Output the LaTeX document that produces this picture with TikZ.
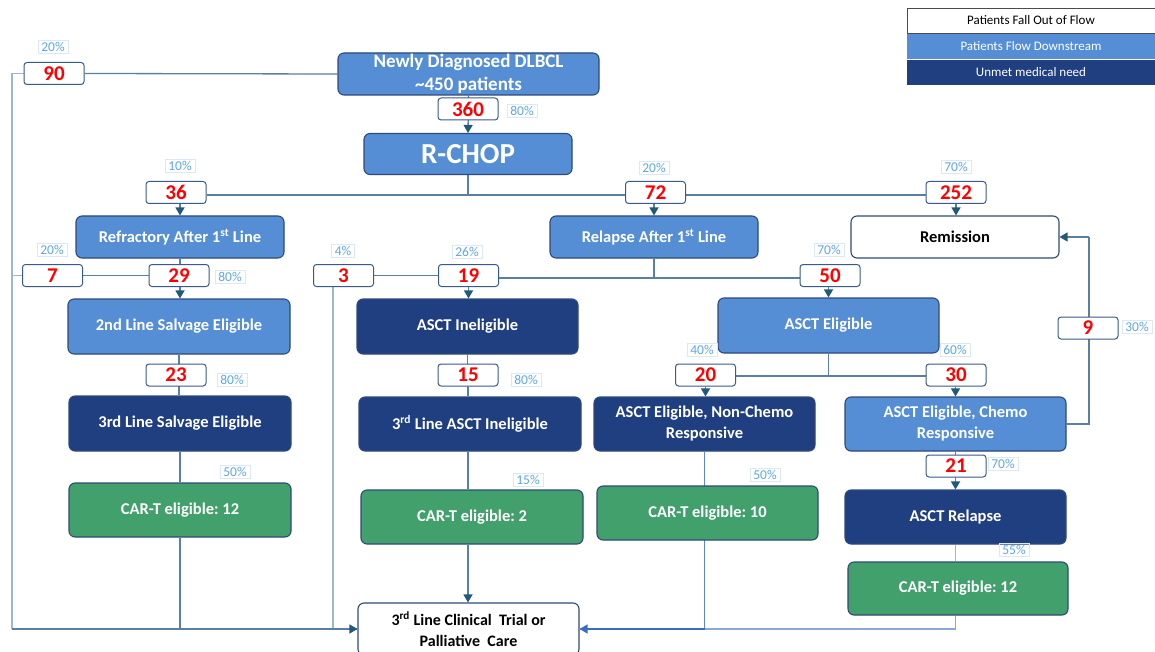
\documentclass[tikz,border=0pt]{standalone}
\usepackage{fontspec}
\setmainfont{Carlito}
\usetikzlibrary{arrows.meta,backgrounds}
\definecolor{medBlue}{HTML}{558ED5}
\definecolor{darkBlue}{HTML}{203F80}
\definecolor{grn}{HTML}{41A06C}
\definecolor{bord}{HTML}{2F4A78}
\definecolor{numBord}{HTML}{3A5A8C}
\definecolor{lineCol}{HTML}{5A7FA3}
\definecolor{lightLine}{HTML}{9DB7CE}
\definecolor{arrCol}{HTML}{1F5A7A}
\definecolor{pctCol}{HTML}{5FA8DC}
\definecolor{pctBord}{HTML}{DCE8F4}
\definecolor{blueArr}{HTML}{3A6CC0}
\tikzset{
 base/.style={rounded corners=6pt, draw=bord, line width=1.1pt, font=\bfseries\fontsize{16.5}{21}\selectfont, align=center, inner sep=0pt},
 mid/.style={base, fill=medBlue, text=white},
 dark/.style={base, fill=darkBlue, text=white},
 grn/.style={base, fill=grn, text=white},
 wht/.style={base, fill=white, text=black},
 num/.style={draw=numBord, fill=white, rounded corners=3pt, line width=1pt, minimum width=60pt, minimum height=22pt, inner sep=0pt, text=red, font=\bfseries\fontsize{21}{21}\selectfont},
 pct/.style={draw=pctBord, line width=0.6pt, text=pctCol, font=\fontsize{13.5}{13.5}\selectfont, inner xsep=3.5pt, inner ysep=2pt},
 conn/.style={draw=lineCol, line width=1.3pt},
 arr/.style={conn, -{Triangle[length=8pt,width=9pt,color=arrCol]}},
 leg/.style={minimum width=248pt, minimum height=25pt, inner sep=0pt, font=\fontsize{13}{13}\selectfont},
}
\begin{document}
\begin{tikzpicture}[x=1pt,y=-1pt]
\useasboundingbox (0,0) rectangle (1155,652);
% legend
\node[leg, draw=black!70, fill=white, line width=0.8pt] (lg1) at (1031,20.5) {Patients Fall Out of Flow};
\node[leg, fill=medBlue, text=white] (lg2) at (1031,46.5) {Patients Flow Downstream};
\node[leg, fill=darkBlue, text=white] (lg3) at (1031,72.5) {Unmet medical need};
% main nodes
\node[mid, minimum width=261pt, minimum height=42pt, font=\bfseries\fontsize{19}{23}\selectfont] (top) at (468.5,74) {Newly Diagnosed DLBCL\\\textasciitilde450 patients};
\node[mid, minimum width=208pt, minimum height=41pt, font=\bfseries\fontsize{29}{30}\selectfont] (rchop) at (468,154) {R-CHOP};
\node[mid, minimum width=208pt, minimum height=42pt] (refr) at (180,237) {Refractory After 1\textsuperscript{st} Line};
\node[mid, minimum width=208pt, minimum height=42pt] (relapse) at (654,237) {Relapse After 1\textsuperscript{st} Line};
\node[wht, minimum width=208pt, minimum height=42pt] (remis) at (955,237) {Remission};
\node[mid, minimum width=222pt, minimum height=55pt] (sal2) at (179,326.5) {2nd Line Salvage Eligible};
\node[dark, minimum width=221pt, minimum height=55pt] (asinel) at (467.5,326.5) {ASCT Ineligible};
\node[mid, minimum width=221pt, minimum height=55pt] (asel) at (828.5,325.5) {ASCT Eligible};
\node[dark, minimum width=222pt, minimum height=55pt] (sal3) at (180,423.5) {3rd Line Salvage Eligible};
\node[dark, minimum width=222pt, minimum height=54pt] (asin3) at (470,424) {3\textsuperscript{rd} Line ASCT Ineligible};
\node[dark, minimum width=221pt, minimum height=54pt] (nonchemo) at (704.5,424) {ASCT Eligible, Non-Chemo\\Responsive};
\node[mid, minimum width=221pt, minimum height=54pt] (chemo) at (955.5,424) {ASCT Eligible, Chemo\\Responsive};
\node[grn, minimum width=222pt, minimum height=54pt] (cart1) at (180,510) {CAR-T eligible:\ 12};
\node[grn, minimum width=222pt, minimum height=54pt] (cart2) at (472,517) {CAR-T eligible:\ 2};
\node[grn, minimum width=221pt, minimum height=54pt] (cart3) at (707.5,513) {CAR-T eligible:\ 10};
\node[dark, minimum width=221pt, minimum height=54pt] (relA) at (955.5,517) {ASCT Relapse};
\node[grn, minimum width=220pt, minimum height=53pt] (cart4) at (958,588.5) {CAR-T eligible:\ 12};
\node[wht, minimum width=221pt, minimum height=52pt, font=\bfseries\fontsize{16}{20.5}\selectfont] (clin) at (468.5,629) {3\textsuperscript{rd} Line Clinical\ \ Trial or\\Palliative\ \ Care};
% number boxes
\node[num] (n90) at (54,73.5) {90};
\node[num] (n360) at (468,109) {360};
\node[num] (n36) at (176,192.5) {36};
\node[num] (n72) at (655.5,192.5) {72};
\node[num] (n252) at (956,192.5) {252};
\node[num] (n7) at (52.5,275.5) {7};
\node[num] (n29) at (179,275.5) {29};
\node[num] (n3) at (343.5,275.5) {3};
\node[num] (n19) at (468.5,275.5) {19};
\node[num] (n50) at (830,275.5) {50};
\node[num] (n9) at (1088,328) {9};
\node[num] (n23) at (176,375) {23};
\node[num] (n15) at (468,375) {15};
\node[num] (n20) at (705.5,375) {20};
\node[num] (n30) at (956,375) {30};
\node[num] (n21) at (956,466) {21};
% percentages
\node[pct] (p90) at (53,47) {20\%};
\node[pct] (p360) at (522,111) {80\%};
\node[pct] (p36) at (180,166) {10\%};
\node[pct] (p72) at (654,168) {20\%};
\node[pct] (p252) at (956,167) {70\%};
\node[pct] (p7) at (52,250) {20\%};
\node[pct] (p29) at (230,277) {80\%};
\node[pct] (p3) at (343,251) {4\%};
\node[pct] (p19) at (467,252) {26\%};
\node[pct] (p50) at (829,250) {70\%};
\node[pct] (p9) at (1137,327) {30\%};
\node[pct] (p23) at (232,380) {80\%};
\node[pct] (p15) at (526,380) {80\%};
\node[pct] (p20) at (702,350) {40\%};
\node[pct] (p30) at (955,350) {60\%};
\node[pct] (p21) at (1003,464) {70\%};
\node[pct] (pc1) at (235,472) {50\%};
\node[pct] (pc2) at (528,480) {15\%};
\node[pct] (pc3) at (765,475) {50\%};
\node[pct] (pc4) at (1014,550) {55\%};
% helper coordinates
\coordinate (xl) at (12,0);
\coordinate (yb) at (0,629);
\coordinate (xr) at (1089,0);
\coordinate (j1) at (0,195);
\coordinate (j2) at (0,278);
\coordinate (j3) at (0,376);
\coordinate (x3) at (333,0);
\begin{scope}[on background layer]
\fill[white] (0,0) rectangle (1155,652);
% top
\draw[conn] (top.west) -- (n90.east);
\draw[conn, draw=lightLine] (n90.west) -- (n90.west -| xl) -- (xl |- yb);
\draw[arr] (top.south) -- (rchop.north);
\draw[conn] (rchop.south) -- (rchop.south |- j1);
\draw[conn] (n36.east |- j1) -- (n252.west |- j1);
\draw[arr] (n36.south -| refr) -- (refr.north);
\draw[arr] (n72.south -| relapse) -- (relapse.north);
\draw[arr] (n252.south) -- (n252.south |- remis.north);
% row 2
\draw[arr] (refr.south) -- (refr.south |- sal2.north);
\draw[conn] (n7.east) -- (n29.west);
\draw[conn, draw=lightLine] (n7.west) -- (n7.west -| xl);
\draw[conn] (n3.east) -- (n19.west);
\draw[conn] (n19.east |- j2) -- (n50.west |- j2);
\draw[conn] (relapse.south) -- (relapse.south |- j2);
\draw[conn, draw=lightLine] (n3.south -| x3) -- (x3 |- yb);
\draw[arr] (n19.south) -- (n19.south |- asinel.north);
\draw[arr] (n50.south -| asel) -- (asel.north);
% left column
\draw[conn] (sal2.south) -- (sal2.south |- sal3.north);
\draw[conn] (sal3.south) -- (sal3.south |- cart1.north);
\draw[conn] (cart1.south) -- (cart1.south |- yb) -- (clin.west |- yb);
\draw[arr, draw=lineCol] (xl |- yb) -- (clin.west |- yb);
% middle column
\draw[conn] (asinel.south) -- (asinel.south |- asin3.north);
\draw[conn] (n15.south) -- (n15.south |- asin3.north);
\draw[conn] (asin3.south -| n15) -- (n15 |- cart2.north);
\draw[arr] (cart2.south -| n15) -- (n15 |- clin.north);
% right
\draw[conn] (asel.south) -- (asel.south |- j3);
\draw[conn] (n20.east |- j3) -- (n30.west |- j3);
\draw[arr] (n20.south) -- (n20.south |- nonchemo.north);
\draw[arr] (n30.south -| chemo) -- (chemo.north);
\draw[conn, draw=blueArr!80] (nonchemo.south) -- (nonchemo.south |- yb);
\draw[arr] (chemo.south) -- (chemo.south |- relA.north);
\draw[conn, draw=lightLine] (relA.south) -- (relA.south |- cart4.north);
\draw[conn, draw=blueArr!60] (cart4.south -| relA) -- (relA |- yb) -- (clin.east |- yb);
\draw[conn, draw=blueArr, -{Triangle[length=8pt,width=9pt]}] (nonchemo.south |- yb) -- (clin.east |- yb);
\draw[conn] (chemo.east) -- (chemo.east -| xr) -- (xr |- remis.east);
\draw[arr] (xr |- remis.east) -- (remis.east);
\end{scope}
\end{tikzpicture}
\end{document}
